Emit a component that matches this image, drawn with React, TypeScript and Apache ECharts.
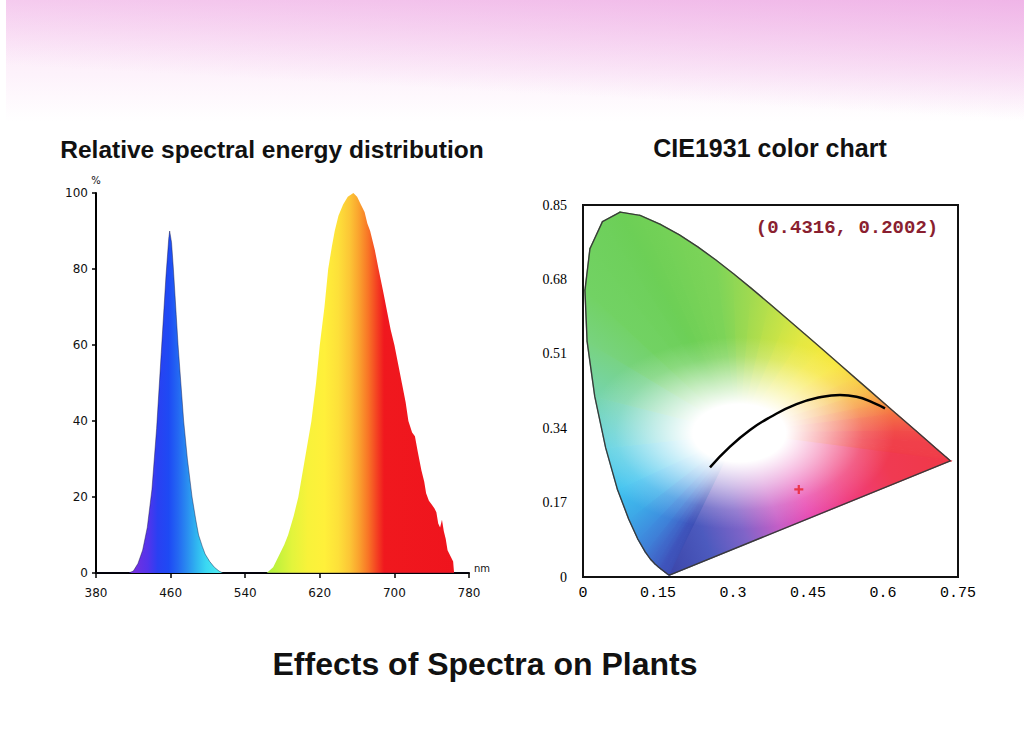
import React, { useEffect, useRef } from 'react';
import * as echarts from 'echarts';

// ---------- Left chart: relative spectral energy distribution ----------
const WAVELENGTH_MIN = 380;
const WAVELENGTH_MAX = 780;
const WAVELENGTH_STEP = 80;
const PERCENT_STEP = 20;

const BLUE_NM = [380, 415, 420, 425, 430, 435, 440, 445, 450, 455, 458, 459, 461, 463, 466, 468, 471, 474, 478, 483, 487, 490, 494, 497, 502, 507, 512, 516, 780];
const BLUE_PCT = [0, 0, 0.5, 2.5, 6, 12, 22, 38, 58, 78, 88, 90, 87, 80, 68, 60, 50, 40, 30, 20, 14, 10, 7, 5, 3, 1.5, 0.5, 0, 0];

const RED_NM = [380, 563, 570, 577, 582, 586, 592, 597, 604, 611, 616, 620, 625, 629, 633, 636, 640, 645, 650, 656, 660, 664, 668, 671, 674, 679, 683, 688, 692, 696, 700, 704, 708, 712, 715, 719, 722, 725, 729, 732, 734, 737, 740, 743, 745, 747, 749, 751, 753, 755, 757, 759, 761, 763, 764, 780];
const RED_PCT = [0, 0, 1.5, 5, 7.5, 10, 15, 20, 30, 40, 50, 60, 70, 80, 86, 90, 94, 97, 99, 100, 99, 97, 95, 92, 90, 85, 80, 74, 69, 64, 60, 55, 50, 45, 40, 37, 36, 32, 27, 24, 21, 19, 18, 17, 16, 13, 12, 14, 11, 9, 6, 5, 4, 3, 0, 0];

// ---------- Right chart: CIE 1931 chromaticity ----------
const CIE_X_STEP = 0.15;
const CIE_X_MAX = 0.75;
const CIE_Y_STEP = 0.17;
const CIE_Y_MAX = 0.85;

const LOCUS_NM = [380, 400, 420, 430, 440, 450, 455, 460, 465, 470, 475, 480, 485, 490, 495, 500, 505, 510, 515, 520, 525, 530, 535, 540, 545, 550, 555, 560, 565, 570, 575, 580, 585, 590, 595, 600, 610, 620, 630, 640, 650, 660, 680, 700];
const LOCUS_X = [0.1741, 0.1733, 0.1714, 0.1689, 0.1644, 0.1566, 0.1510, 0.1440, 0.1355, 0.1241, 0.1096, 0.0913, 0.0687, 0.0454, 0.0235, 0.0082, 0.0039, 0.0139, 0.0389, 0.0743, 0.1142, 0.1547, 0.1929, 0.2296, 0.2658, 0.3016, 0.3373, 0.3731, 0.4087, 0.4441, 0.4788, 0.5125, 0.5448, 0.5752, 0.6029, 0.6270, 0.6658, 0.6915, 0.7079, 0.7190, 0.7260, 0.7300, 0.7334, 0.7347];
const LOCUS_Y = [0.0050, 0.0048, 0.0051, 0.0069, 0.0109, 0.0177, 0.0227, 0.0297, 0.0399, 0.0578, 0.0868, 0.1327, 0.2007, 0.2950, 0.4127, 0.5384, 0.6548, 0.7502, 0.8120, 0.8338, 0.8262, 0.8059, 0.7816, 0.7543, 0.7243, 0.6923, 0.6589, 0.6245, 0.5896, 0.5547, 0.5202, 0.4866, 0.4544, 0.4242, 0.3965, 0.3725, 0.3340, 0.3083, 0.2920, 0.2809, 0.2740, 0.2700, 0.2666, 0.2653];

const PLANCK_X = [0.254, 0.294, 0.334, 0.374, 0.427, 0.474, 0.514, 0.547, 0.581, 0.604];
const PLANCK_Y = [0.2506, 0.2978, 0.336, 0.365, 0.395, 0.4106, 0.416, 0.412, 0.398, 0.3855];

const MEASURED_POINT = [0.4316, 0.2002];
const WHITE_POINT = [0.3127, 0.329];

// ---------- Styles ----------
const SPECTRUM_STOPS: [number, string][] = [
  [380, '#7030e0'], [422, '#7030e0'], [436, '#5234ec'], [446, '#2a40f2'], [458, '#1e4af4'],
  [468, '#2468f2'], [478, '#2a8ef0'], [488, '#30b6f0'], [498, '#3ad8f2'], [515, '#52eef0'],
  [560, '#a8f040'], [575, '#c4f23c'], [590, '#e2f43c'], [607, '#f8f23a'], [625, '#fff03a'],
  [640, '#fde03a'], [652, '#fcc636'], [662, '#faa22e'], [672, '#f87426'], [681, '#f44222'],
  [689, '#f0181e'], [780, '#ef131d'],
];

const EDGE_STOPS: [number, string][] = [
  [380, '#3c46aa'], [450, '#3e54bc'], [465, '#406ccc'], [475, '#3e8edf'], [482, '#3cb2ea'],
  [486, '#42c8f0'], [490, '#5ad0e0'], [494, '#74d4b8'], [498, '#7ad48a'], [505, '#72d264'],
  [520, '#6ccf56'], [545, '#7ed458'], [555, '#a0da50'], [565, '#cce446'], [572, '#ecea40'],
  [580, '#f8e63a'], [588, '#f8c43e'], [595, '#f6903e'], [603, '#f25c48'], [615, '#f0404a'],
  [700, '#f03848'],
];

const PURPLE_STOPS = [
  { offset: 0, color: '#f03848' },
  { offset: 0.2, color: '#f03a52' },
  { offset: 0.36, color: '#f03e7e' },
  { offset: 0.5, color: '#e84ab2' },
  { offset: 0.6, color: '#c85ec6' },
  { offset: 0.72, color: '#8064c8' },
  { offset: 0.85, color: '#4c5abe' },
  { offset: 1, color: '#3c46aa' },
];

function hexToRgb(h: string) {
  const n = parseInt(h.slice(1), 16);
  return [(n >> 16) & 255, (n >> 8) & 255, n & 255];
}
function interpColor(stops: [number, string][], v: number) {
  if (v <= stops[0][0]) return stops[0][1];
  for (let i = 1; i < stops.length; i++) {
    if (v <= stops[i][0]) {
      const [a, ca] = stops[i - 1];
      const [b, cb] = stops[i];
      const t = (v - a) / (b - a);
      const A = hexToRgb(ca);
      const B = hexToRgb(cb);
      const c = A.map((x, k) => Math.round(x + (B[k] - x) * t));
      return `rgb(${c[0]},${c[1]},${c[2]})`;
    }
  }
  return stops[stops.length - 1][1];
}

function spectrumGradient() {
  return new echarts.graphic.LinearGradient(
    0, 0, 1, 0,
    SPECTRUM_STOPS.map(([nm, c]) => ({ offset: (nm - WAVELENGTH_MIN) / (WAVELENGTH_MAX - WAVELENGTH_MIN), color: c }))
  );
}

export default function App() {
  const ref = useRef<HTMLDivElement>(null);

  useEffect(() => {
    if (!ref.current) return;
    const chart = echarts.init(ref.current, undefined, { renderer: 'svg' });

    const blueData = BLUE_NM.map((nm, i) => [nm, BLUE_PCT[i]]);
    const redData = RED_NM.map((nm, i) => [nm, RED_PCT[i]]);

    // fan triangles from the white point to each locus segment, plus the purple line
    const fanData: number[][] = [];
    for (let i = 0; i < LOCUS_NM.length - 1; i++) {
      fanData.push([LOCUS_X[i], LOCUS_Y[i], LOCUS_X[i + 1], LOCUS_Y[i + 1], LOCUS_NM[i], LOCUS_NM[i + 1]]);
    }
    const last = LOCUS_NM.length - 1;
    fanData.push([LOCUS_X[last], LOCUS_Y[last], LOCUS_X[0], LOCUS_Y[0], -1, -1]);

    const outline = LOCUS_X.map((x, i) => [x, LOCUS_Y[i]]);
    outline.push([LOCUS_X[0], LOCUS_Y[0]]);

    const planck = PLANCK_X.map((x, i) => [x, PLANCK_Y[i]]);

    const titleFont = (size: number) => `bold ${size}px "Liberation Sans", Arial, sans-serif`;

    const option: any = {
      animation: false,
      backgroundColor: '#ffffff',
      graphic: [
        {
          type: 'rect', silent: true, z: -10,
          shape: { x: 6, y: 0, width: 1018, height: 122 },
          style: {
            fill: new echarts.graphic.LinearGradient(0, 0, 0, 1, [
              { offset: 0, color: '#fbe4f6' },
              { offset: 0.6, color: '#fdf2fb' },
              { offset: 1, color: '#ffffff' },
            ]),
          },
        },
        {
          type: 'rect', silent: true, z: -9,
          shape: { x: 6, y: 0, width: 1018, height: 122 },
          style: {
            fill: new echarts.graphic.LinearGradient(1, 0, 0.55, 1, [
              { offset: 0, color: 'rgba(232,150,222,0.6)' },
              { offset: 0.82, color: 'rgba(232,150,222,0)' },
            ]),
          },
        },
        {
          type: 'text', x: 272, y: 149, silent: true,
          style: { text: 'Relative spectral energy distribution', font: titleFont(24.5), fill: '#111', textAlign: 'center', textVerticalAlign: 'middle' },
        },
        {
          type: 'text', x: 770, y: 147.5, silent: true,
          style: { text: 'CIE1931 color chart', font: titleFont(25), fill: '#111', textAlign: 'center', textVerticalAlign: 'middle' },
        },
        {
          type: 'text', x: 485, y: 664, silent: true,
          style: { text: 'Effects of Spectra on Plants', font: titleFont(32), fill: '#111', textAlign: 'center', textVerticalAlign: 'middle' },
        },
        {
          type: 'text', x: 847, y: 228, silent: true,
          style: { text: '(0.4316, 0.2002)', font: 'bold 19px "Liberation Mono", monospace', fill: '#8a1f30', textAlign: 'center', textVerticalAlign: 'middle' },
        },
      ],
      grid: [
        { left: 96, top: 193, width: 373, height: 380 },
        { left: 583, top: 205, width: 375, height: 372, show: true, borderColor: '#111', borderWidth: 2, backgroundColor: 'transparent' },
      ],
      xAxis: [
        {
          gridIndex: 0, type: 'value', min: WAVELENGTH_MIN, max: WAVELENGTH_MAX, interval: WAVELENGTH_STEP,
          name: 'nm', nameLocation: 'end', nameGap: 5,
          nameTextStyle: { fontSize: 10, fontFamily: '"DejaVu Sans", sans-serif', color: '#111', verticalAlign: 'bottom' },
          axisLine: { show: true, onZero: false, lineStyle: { color: '#000', width: 2 } },
          axisTick: { show: true, length: 5, lineStyle: { color: '#000', width: 1.5 } },
          axisLabel: { margin: 14, fontFamily: '"DejaVu Sans", sans-serif', fontSize: 12, color: '#111' },
          splitLine: { show: false },
        },
        {
          gridIndex: 1, type: 'value', min: 0, max: CIE_X_MAX, interval: CIE_X_STEP,
          axisLine: { show: false }, axisTick: { show: false },
          axisLabel: { margin: 9, fontFamily: '"Liberation Mono", monospace', fontSize: 15, color: '#000' },
          splitLine: { show: false },
        },
      ],
      yAxis: [
        {
          gridIndex: 0, type: 'value', min: 0, max: 100, interval: PERCENT_STEP,
          name: '%', nameLocation: 'end', nameGap: 8,
          nameTextStyle: { fontSize: 10, fontFamily: '"DejaVu Sans", sans-serif', color: '#111', align: 'center' },
          axisLine: { show: true, onZero: false, lineStyle: { color: '#000', width: 2 } },
          axisTick: { show: true, length: 4, lineStyle: { color: '#000', width: 1.5 } },
          axisLabel: { margin: 8, fontFamily: '"DejaVu Sans", sans-serif', fontSize: 12, color: '#111' },
          splitLine: { show: false },
        },
        {
          gridIndex: 1, type: 'value', min: 0, max: CIE_Y_MAX, interval: CIE_Y_STEP,
          axisLine: { show: false }, axisTick: { show: false },
          axisLabel: { margin: 16, fontFamily: '"Liberation Serif", serif', fontSize: 14, color: '#000' },
          splitLine: { show: false },
        },
      ],
      series: [
        {
          type: 'line', xAxisIndex: 0, yAxisIndex: 0, data: blueData, symbol: 'none', silent: true,
          lineStyle: { width: 0.8, color: 'rgba(20,20,70,0.55)' },
          areaStyle: { color: spectrumGradient(), opacity: 1 },
          z: 2,
        },
        {
          type: 'line', xAxisIndex: 0, yAxisIndex: 0, data: redData, symbol: 'none', silent: true,
          lineStyle: { width: 0, opacity: 0 },
          areaStyle: { color: spectrumGradient(), opacity: 1 },
          z: 2,
        },
        {
          type: 'custom', xAxisIndex: 1, yAxisIndex: 1, data: fanData, silent: true,
          encode: { x: [0, 2], y: [1, 3] },
          z: 1,
          renderItem: (params: any, api: any) => {
            const p1 = api.coord([api.value(0), api.value(1)]);
            const p2 = api.coord([api.value(2), api.value(3)]);
            const w = api.coord(WHITE_POINT);
            const nm1 = api.value(4);
            const nm2 = api.value(5);
            let g: any;
            if (nm1 < 0) {
              g = new echarts.graphic.LinearGradient(p1[0], p1[1], p2[0], p2[1], PURPLE_STOPS, true);
            } else {
              // gradient whose iso-lines run parallel to the triangle's bisector (from white point)
              const mx = (p1[0] + p2[0]) / 2;
              const my = (p1[1] + p2[1]) / 2;
              const dx = mx - w[0];
              const dy = my - w[1];
              const len = Math.hypot(dx, dy) || 1;
              const nx = -dy / len;
              const ny = dx / len;
              const s1 = (p1[0] - mx) * nx + (p1[1] - my) * ny;
              let s2 = (p2[0] - mx) * nx + (p2[1] - my) * ny;
              if (Math.abs(s2 - s1) < 0.05) s2 = s1 + 0.05;
              g = new echarts.graphic.LinearGradient(
                mx + nx * s1, my + ny * s1, mx + nx * s2, my + ny * s2,
                [{ offset: 0, color: interpColor(EDGE_STOPS, nm1) }, { offset: 1, color: interpColor(EDGE_STOPS, nm2) }],
                true
              );
            }
            return { type: 'polygon', shape: { points: [w, p1, p2] }, style: { fill: g, stroke: g, lineWidth: 1.2 } };
          },
        },
        {
          type: 'custom', xAxisIndex: 1, yAxisIndex: 1, data: [WHITE_POINT], silent: true,
          z: 2,
          renderItem: (params: any, api: any) => {
            const w = api.coord([api.value(0), api.value(1)]);
            const sy = 0.62;
            const pts = LOCUS_X.map((x, i) => {
              const p = api.coord([x, LOCUS_Y[i]]);
              return [p[0] - w[0], (p[1] - w[1]) / sy];
            });
            const g = new echarts.graphic.RadialGradient(0, 0, 155, [
              { offset: 0, color: 'rgba(255,255,255,1)' },
              { offset: 0.3, color: 'rgba(255,255,255,1)' },
              { offset: 0.55, color: 'rgba(255,255,255,0.6)' },
              { offset: 0.8, color: 'rgba(255,255,255,0.18)' },
              { offset: 1, color: 'rgba(255,255,255,0)' },
            ], true);
            return { type: 'polygon', x: w[0], y: w[1], scaleY: sy, shape: { points: pts }, style: { fill: g } };
          },
        },
        {
          type: 'line', xAxisIndex: 1, yAxisIndex: 1, data: outline, symbol: 'none', silent: true,
          lineStyle: { color: '#3a3a3a', width: 1.4 },
          z: 3,
        },
        {
          type: 'line', xAxisIndex: 1, yAxisIndex: 1, data: planck, symbol: 'none', smooth: true, silent: true,
          lineStyle: { color: '#000', width: 2.5 },
          z: 4,
        },
        {
          type: 'scatter', xAxisIndex: 1, yAxisIndex: 1, data: [MEASURED_POINT], silent: true,
          symbol: 'path://M3,0H5V3H8V5H5V8H3V5H0V3H3Z', symbolSize: 9,
          itemStyle: { color: '#e8202c' },
          z: 5,
        },
      ],
    };

    chart.setOption(option);
    return () => chart.dispose();
  }, []);

  return <div ref={ref} style={{ position: 'absolute', left: 0, top: 0, width: 1024, height: 730 }} />;
}
